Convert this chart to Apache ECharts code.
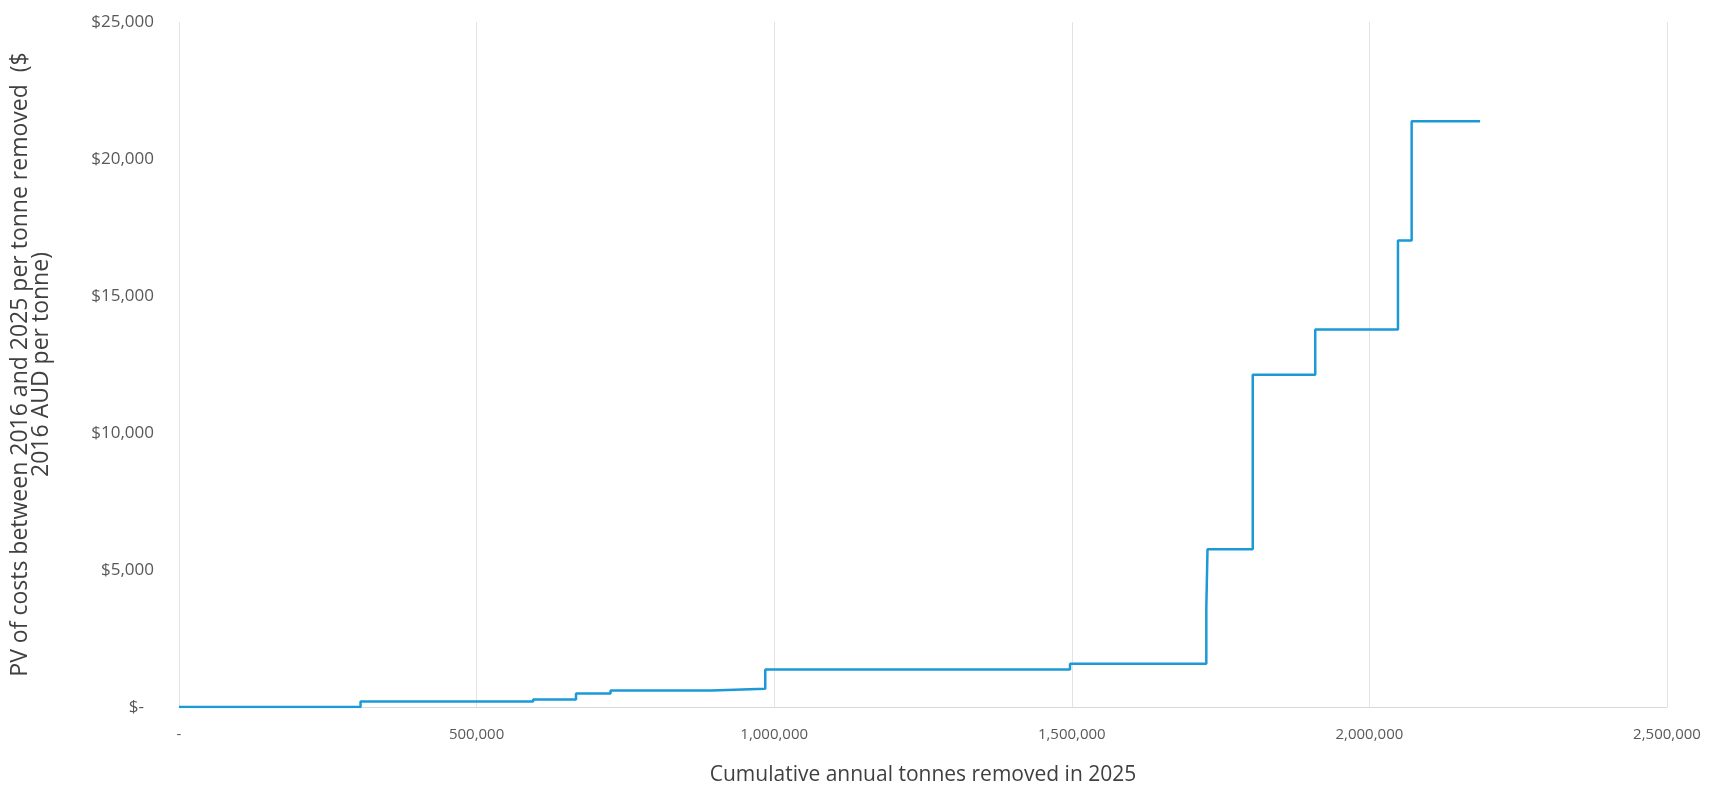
<!DOCTYPE html>
<html>
<head>
<meta charset="utf-8">
<script src="https://cdn.jsdelivr.net/npm/echarts@6/dist/echarts.min.js"></script>
<style>
html,body{margin:0;padding:0;background:#fff;}
#chart{width:1720px;height:787px;}
</style>
</head>
<body>
<div id="chart"></div>
<script>
// Step start positions (cumulative tonnes) and cost level for each step
const stepStartTonnes = [0, 305000, 595000, 667000, 725000, 895000, 985000, 1497000, 1726000, 1728000, 1804000, 1909000, 2048000, 2071000, 2186000];
const stepCostLevel   = [0, 200, 275, 490, 600, 665, 1370, 1580, 3600, 5760, 12130, 13780, 17030, 21380, 21380];
const xTicks = [0, 500000, 1000000, 1500000, 2000000, 2500000];
const yTicks = [0, 5000, 10000, 15000, 20000, 25000];
const xTitle = 'Cumulative annual tonnes removed in 2025';
const yTitle = 'PV of costs between 2016 and 2025 per tonne removed  ($\n2016 AUD per tonne)';

const data = stepStartTonnes.map((x, i) => [x, stepCostLevel[i]]);
const fmt = v => v.toString().replace(/\B(?=(\d{3})+(?!\d))/g, ',');
const FONT = 'Open Sans';

const chart = echarts.init(document.getElementById('chart'));
chart.setOption({
  backgroundColor: '#ffffff',
  animation: false,
  grid: {left: 179, right: 53, top: 22, bottom: 80, containLabel: false, outerBoundsMode: 'none'},
  xAxis: {
    type: 'value',
    min: xTicks[0], max: xTicks[xTicks.length - 1], interval: xTicks[1] - xTicks[0],
    name: xTitle, nameLocation: 'middle', nameGap: 58,
    nameTextStyle: {color: '#404040', fontSize: 21, fontFamily: FONT},
    axisLine: {show: true, lineStyle: {color: '#d9d9d9', width: 1}},
    axisTick: {show: false},
    splitLine: {show: true, lineStyle: {color: '#e3e3e3', width: 1}},
    axisLabel: {
      color: '#595959', fontSize: 15, fontFamily: FONT, margin: 20,
      formatter: v => v === 0 ? '-' : fmt(v)
    }
  },
  yAxis: {
    type: 'value',
    min: yTicks[0], max: yTicks[yTicks.length - 1], interval: yTicks[1] - yTicks[0],
    name: yTitle, nameLocation: 'middle', nameGap: 127, nameRotate: 90,
    nameTextStyle: {color: '#404040', fontSize: 23, fontFamily: FONT, lineHeight: 21, align: 'center'},
    axisLine: {show: false},
    axisTick: {show: false},
    splitLine: {show: false},
    axisLabel: {
      color: '#595959', fontSize: 17, fontFamily: FONT, margin: 25,
      formatter: v => v === 0 ? '{z|$-}' : '$' + fmt(v),
      rich: {z: {color: '#595959', fontSize: 17, fontFamily: FONT, padding: [0, 10, 0, 0]}}
    }
  },
  series: [{
    type: 'line',
    step: 'end',
    data: data,
    showSymbol: false,
    symbol: 'none',
    lineStyle: {color: '#1B9AD6', width: 2.5},
    itemStyle: {color: '#1B9AD6'}
  }]
});
</script>
</body>
</html>
